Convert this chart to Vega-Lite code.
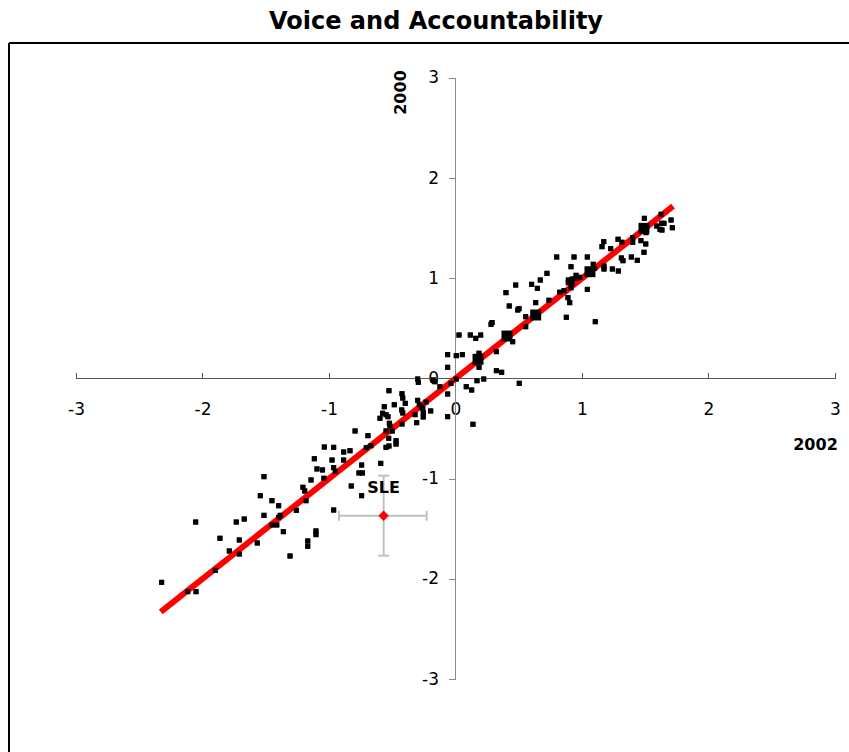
{
  "$schema": "https://vega.github.io/schema/vega-lite/v6.json",
  "width": 840,
  "height": 709,
  "autosize": {"type": "none"},
  "padding": {"left": 9, "top": 43, "right": 0, "bottom": 0},
  "background": "white",
  "config": {"view": {"stroke": null}, "font": "DejaVu Sans"},
  "title": {"text": "Voice and Accountability", "font": "DejaVu Sans", "fontSize": 24, "fontWeight": "bold", "color": "#000", "anchor": "middle", "dx": 7, "offset": 8},
  "datasets": {
    "pts": [
      {"x":-2.323,"y":-2.035},{"x":-2.117,"y":-2.128},{"x":-2.051,"y":-2.128},{"x":-2.054,"y":-1.433},{"x":-1.899,"y":-1.915},{"x":-1.862,"y":-1.595},{"x":-1.788,"y":-1.722},{"x":-1.733,"y":-1.433},{"x":-1.709,"y":-1.612},{"x":-1.709,"y":-1.752},{"x":-1.670,"y":-1.403},{"x":-1.567,"y":-1.642},{"x":-1.543,"y":-1.170},{"x":-1.514,"y":-0.980},{"x":-1.514,"y":-1.366},{"x":-1.451,"y":-1.220},{"x":-1.451,"y":-1.462},{"x":-1.413,"y":-1.462},{"x":-1.398,"y":-1.270},{"x":-1.398,"y":-1.386},{"x":-1.385,"y":-1.366},{"x":-1.361,"y":-1.529},{"x":-1.308,"y":-1.772},{"x":-1.258,"y":-1.316},{"x":-1.206,"y":-1.086},{"x":-1.192,"y":-1.123},{"x":-1.182,"y":-1.220},{"x":-1.168,"y":-1.622},{"x":-1.168,"y":-1.675},{"x":-1.142,"y":-1.013},{"x":-1.103,"y":-1.522},{"x":-1.103,"y":-1.559},{"x":-1.095,"y":-0.903},{"x":-1.051,"y":-0.913},{"x":-1.040,"y":-0.996},
      {"x":-1.116,"y":-0.801},{"x":-0.976,"y":-0.814},{"x":-0.963,"y":-0.890},{"x":-0.950,"y":-0.926},{"x":-0.884,"y":-0.814},{"x":-1.037,"y":-0.684},{"x":-0.963,"y":-0.687},{"x":-0.884,"y":-0.734},{"x":-0.834,"y":-0.721},{"x":-0.794,"y":-0.524},{"x":-0.705,"y":-0.691},{"x":-0.668,"y":-0.671},{"x":-0.692,"y":-0.571},{"x":-0.742,"y":-0.864},{"x":-0.763,"y":-0.943},{"x":-0.735,"y":-0.943},{"x":-0.591,"y":-0.847},{"x":-0.824,"y":-1.073},{"x":-0.742,"y":-1.170},{"x":-0.963,"y":-1.313},
      {"x":-0.549,"y":-0.687},{"x":-0.526,"y":-0.674},{"x":-0.470,"y":-0.621},{"x":-0.470,"y":-0.654},{"x":-0.528,"y":-0.597},{"x":-0.549,"y":-0.524},{"x":-0.500,"y":-0.524},{"x":-0.523,"y":-0.447},{"x":-0.423,"y":-0.454},{"x":-0.307,"y":-0.441},{"x":-0.597,"y":-0.397},{"x":-0.549,"y":-0.361},{"x":-0.534,"y":-0.381},{"x":-0.576,"y":-0.347},{"x":-0.425,"y":-0.314},{"x":-0.255,"y":-0.341},{"x":-0.563,"y":-0.282},{"x":-0.484,"y":-0.262},{"x":-0.397,"y":-0.248},{"x":-0.423,"y":-0.152},{"x":-0.417,"y":-0.195},{"x":-0.526,"y":-0.122},{"x":-0.299,"y":-0.218},{"x":-0.286,"y":-0.262},{"x":-0.259,"y":-0.297},{"x":-0.233,"y":-0.235},{"x":-0.299,"y":-0.005},{"x":-0.294,"y":-0.038},
      {"x":0.281,"y":0.541},{"x":0.028,"y":0.434},{"x":0.117,"y":0.434},{"x":0.160,"y":0.401},{"x":0.199,"y":0.434},{"x":0.186,"y":0.252},{"x":0.054,"y":0.238},{"x":0.006,"y":0.228},{"x":-0.062,"y":0.238},{"x":-0.062,"y":0.112},{"x":0.186,"y":0.112},{"x":0.323,"y":0.268},{"x":0.323,"y":0.078},{"x":0.365,"y":0.062},{"x":0.223,"y":-0.005},{"x":0.170,"y":-0.022},{"x":0.128,"y":-0.115},{"x":0.085,"y":-0.082},{"x":0.006,"y":-0.005},{"x":-0.036,"y":-0.048},{"x":-0.062,"y":-0.155},{"x":-0.123,"y":-0.082},{"x":-0.175,"y":-0.015},{"x":-0.162,"y":-0.032},{"x":-0.518,"y":-0.474},{"x":-0.417,"y":-0.344},{"x":-0.196,"y":-0.324},{"x":-0.320,"y":-0.361},{"x":-0.255,"y":-0.384},{"x":-0.062,"y":-0.381},{"x":0.138,"y":-0.457},{"x":0.504,"y":-0.048},{"x":-0.270,"y":-0.285},
      {"x":0.289,"y":0.559},{"x":0.399,"y":0.857},{"x":0.476,"y":0.933},{"x":0.425,"y":0.724},{"x":0.492,"y":0.684},{"x":0.502,"y":0.697},{"x":0.452,"y":0.367},{"x":0.555,"y":0.617},{"x":0.555,"y":0.517},{"x":0.602,"y":0.940},{"x":0.647,"y":0.900},{"x":0.634,"y":0.757},{"x":0.670,"y":0.983},{"x":0.723,"y":1.050},{"x":0.739,"y":0.781},{"x":0.800,"y":1.213},{"x":0.824,"y":0.861},{"x":0.858,"y":0.877},{"x":0.876,"y":0.611},{"x":0.889,"y":0.807},{"x":0.903,"y":0.757},{"x":0.913,"y":0.906},{"x":0.923,"y":0.946},{"x":0.892,"y":0.983},{"x":0.892,"y":0.956},{"x":0.923,"y":0.993},{"x":0.953,"y":1.030},{"x":0.958,"y":1.000},{"x":0.984,"y":1.010},{"x":0.913,"y":1.116},{"x":0.937,"y":1.213},{"x":1.042,"y":1.213},{"x":1.089,"y":1.140},{"x":1.100,"y":1.100},{"x":1.042,"y":0.890},{"x":1.105,"y":0.567},{"x":1.158,"y":1.316},{"x":1.172,"y":1.366},{"x":1.174,"y":1.123},{"x":1.174,"y":1.093},{"x":1.227,"y":1.296},{"x":1.240,"y":1.093},{"x":1.287,"y":1.073},{"x":1.285,"y":1.390},{"x":1.316,"y":1.360},{"x":1.311,"y":1.203},{"x":1.324,"y":1.176},{"x":1.390,"y":1.213},{"x":1.401,"y":1.360},{"x":1.401,"y":1.406},{"x":1.437,"y":1.180},{"x":1.466,"y":1.376},{"x":1.490,"y":1.260},{"x":1.504,"y":1.343},{"x":1.493,"y":1.599},{"x":1.506,"y":1.456},{"x":1.591,"y":1.522},{"x":1.617,"y":1.489},{"x":1.630,"y":1.549},{"x":1.648,"y":1.549},{"x":1.632,"y":1.482},{"x":1.625,"y":1.639},{"x":1.704,"y":1.582},{"x":1.714,"y":1.505}
    ],
    "big": [
      {"x":0.178,"y":0.192},{"x":0.407,"y":0.424},{"x":0.634,"y":0.634},{"x":1.063,"y":1.066},{"x":1.490,"y":1.499}
    ],
    "sle": [
      {"x":-0.568,"y":-1.370,"xlo":-0.921,"xhi":-0.228,"ylo":-1.769,"yhi":-0.970,"label":"SLE"}
    ],
    "fit": [
      {"x":-2.33,"y":-2.33,"x2":1.72,"y2":1.72}
    ],
    "axislines": [
      {"x":-3,"x2":3,"y":0,"y2":0,"c":"x"},
      {"x":0,"x2":0,"y":-3,"y2":3,"c":"y"}
    ]
  },
  "layer": [
    {
      "data": {"name": "pts"},
      "mark": {"type": "point", "shape": "square", "filled": true, "color": "#000", "size": 25, "opacity": 1, "strokeWidth": 0},
      "encoding": {
        "x": {"field": "x", "type": "quantitative", "scale": {"domain": [-3.5296, 3.1107], "nice": false, "zero": false},
          "axis": {"values": [-3, -2, -1, 0, 1, 2, 3], "offset": -373.5, "domain": false, "grid": false, "ticks": true, "tickSize": -6, "tickColor": "#555555", "tickWidth": 1,
            "labelExpr": "datum.value < 0 ? '-' + abs(datum.value) : '' + datum.value",
            "labelFont": "DejaVu Sans", "labelFontSize": 17, "labelColor": "#000", "labelPadding": 29, "labelFlush": false, "labelOverlap": false,
            "title": "2002", "titleFont": "DejaVu Sans", "titleFontSize": 16, "titleFontWeight": "bold", "titleColor": "#000", "titleX": 806, "titleY": 65.5, "titleAlign": "center", "titleBaseline": "middle"}},
        "y": {"field": "y", "type": "quantitative", "scale": {"domain": [-3.7287, 3.3493], "nice": false, "zero": false},
          "axis": {"values": [-3, -2, -1, 0, 1, 2, 3], "offset": -446.5, "domain": false, "grid": false, "ticks": true, "tickSize": 7, "tickColor": "#888888", "tickWidth": 1,
            "labelExpr": "datum.value < 0 ? '-' + abs(datum.value) : '' + datum.value",
            "labelFont": "DejaVu Sans", "labelFontSize": 17, "labelColor": "#000", "labelPadding": 10, "labelFlush": false, "labelOverlap": false,
            "title": "2000", "titleFont": "DejaVu Sans", "titleFontSize": 16, "titleFontWeight": "bold", "titleColor": "#000", "titleAngle": -90, "titleX": -55.5, "titleY": 49, "titleAlign": "center", "titleBaseline": "middle"}}
      }
    },
    {
      "data": {"values": [{}]},
      "mark": {"type": "rule", "color": "#000", "strokeWidth": 2},
      "encoding": {
        "x": {"datum": -3.5296, "type": "quantitative", "scale": {"domain": [-3.5296, 3.1107], "nice": false, "zero": false}}
      }
    },
    {
      "data": {"values": [{}]},
      "mark": {"type": "rule", "color": "#000", "strokeWidth": 2},
      "encoding": {
        "y": {"datum": 3.3493, "type": "quantitative", "scale": {"domain": [-3.7287, 3.3493], "nice": false, "zero": false}}
      }
    },
    {
      "data": {"name": "axislines"},
      "mark": {"type": "rule", "strokeWidth": 1},
      "encoding": {
        "x": {"field": "x", "type": "quantitative", "scale": {"domain": [-3.5296, 3.1107], "nice": false, "zero": false}},
        "x2": {"field": "x2"},
        "y": {"field": "y", "type": "quantitative", "scale": {"domain": [-3.7287, 3.3493], "nice": false, "zero": false}},
        "y2": {"field": "y2"},
        "color": {"field": "c", "type": "nominal", "scale": {"domain": ["x", "y"], "range": ["#555555", "#888888"]}, "legend": null}
      }
    },
    {
      "data": {"name": "fit"},
      "mark": {"type": "rule", "color": "#ff0000", "strokeWidth": 6, "strokeCap": "butt"},
      "encoding": {
        "x": {"field": "x", "type": "quantitative", "scale": {"domain": [-3.5296, 3.1107], "nice": false, "zero": false}},
        "x2": {"field": "x2"},
        "y": {"field": "y", "type": "quantitative", "scale": {"domain": [-3.7287, 3.3493], "nice": false, "zero": false}},
        "y2": {"field": "y2"}
      }
    },
    {
      "data": {"name": "pts"},
      "mark": {"type": "point", "shape": "square", "filled": true, "color": "#000", "size": 25, "opacity": 1, "strokeWidth": 0},
      "encoding": {
        "x": {"field": "x", "type": "quantitative", "scale": {"domain": [-3.5296, 3.1107], "nice": false, "zero": false}},
        "y": {"field": "y", "type": "quantitative", "scale": {"domain": [-3.7287, 3.3493], "nice": false, "zero": false}}
      }
    },
    {
      "data": {"name": "big"},
      "mark": {"type": "point", "shape": "square", "filled": true, "color": "#000", "size": 120, "opacity": 1, "strokeWidth": 0},
      "encoding": {
        "x": {"field": "x", "type": "quantitative", "scale": {"domain": [-3.5296, 3.1107], "nice": false, "zero": false}},
        "y": {"field": "y", "type": "quantitative", "scale": {"domain": [-3.7287, 3.3493], "nice": false, "zero": false}}
      }
    },
    {
      "data": {"name": "sle"},
      "mark": {"type": "rule", "color": "#c0c0c0", "strokeWidth": 2},
      "encoding": {
        "x": {"field": "xlo", "type": "quantitative", "scale": {"domain": [-3.5296, 3.1107], "nice": false, "zero": false}},
        "x2": {"field": "xhi"},
        "y": {"field": "y", "type": "quantitative", "scale": {"domain": [-3.7287, 3.3493], "nice": false, "zero": false}}
      }
    },
    {
      "data": {"name": "sle"},
      "mark": {"type": "rule", "color": "#c0c0c0", "strokeWidth": 2},
      "encoding": {
        "x": {"field": "x", "type": "quantitative", "scale": {"domain": [-3.5296, 3.1107], "nice": false, "zero": false}},
        "y": {"field": "ylo", "type": "quantitative", "scale": {"domain": [-3.7287, 3.3493], "nice": false, "zero": false}},
        "y2": {"field": "yhi"}
      }
    },
    {
      "data": {"name": "sle"},
      "mark": {"type": "tick", "color": "#c0c0c0", "orient": "vertical", "size": 10, "thickness": 2, "opacity": 1},
      "encoding": {
        "x": {"field": "xlo", "type": "quantitative", "scale": {"domain": [-3.5296, 3.1107], "nice": false, "zero": false}},
        "y": {"field": "y", "type": "quantitative", "scale": {"domain": [-3.7287, 3.3493], "nice": false, "zero": false}}
      }
    },
    {
      "data": {"name": "sle"},
      "mark": {"type": "tick", "color": "#c0c0c0", "orient": "vertical", "size": 10, "thickness": 2, "opacity": 1},
      "encoding": {
        "x": {"field": "xhi", "type": "quantitative", "scale": {"domain": [-3.5296, 3.1107], "nice": false, "zero": false}},
        "y": {"field": "y", "type": "quantitative", "scale": {"domain": [-3.7287, 3.3493], "nice": false, "zero": false}}
      }
    },
    {
      "data": {"name": "sle"},
      "mark": {"type": "tick", "color": "#c0c0c0", "orient": "horizontal", "size": 11, "thickness": 2, "opacity": 1},
      "encoding": {
        "x": {"field": "x", "type": "quantitative", "scale": {"domain": [-3.5296, 3.1107], "nice": false, "zero": false}},
        "y": {"field": "ylo", "type": "quantitative", "scale": {"domain": [-3.7287, 3.3493], "nice": false, "zero": false}}
      }
    },
    {
      "data": {"name": "sle"},
      "mark": {"type": "tick", "color": "#c0c0c0", "orient": "horizontal", "size": 11, "thickness": 2, "opacity": 1},
      "encoding": {
        "x": {"field": "x", "type": "quantitative", "scale": {"domain": [-3.5296, 3.1107], "nice": false, "zero": false}},
        "y": {"field": "yhi", "type": "quantitative", "scale": {"domain": [-3.7287, 3.3493], "nice": false, "zero": false}}
      }
    },
    {
      "data": {"name": "sle"},
      "mark": {"type": "point", "shape": "diamond", "filled": true, "color": "#ff0000", "size": 110, "opacity": 1, "strokeWidth": 0},
      "encoding": {
        "x": {"field": "x", "type": "quantitative", "scale": {"domain": [-3.5296, 3.1107], "nice": false, "zero": false}},
        "y": {"field": "y", "type": "quantitative", "scale": {"domain": [-3.7287, 3.3493], "nice": false, "zero": false}}
      }
    },
    {
      "data": {"name": "sle"},
      "mark": {"type": "text", "font": "DejaVu Sans", "fontSize": 16, "fontWeight": "bold", "color": "#000", "dy": -28, "align": "center", "baseline": "middle"},
      "encoding": {
        "x": {"field": "x", "type": "quantitative", "scale": {"domain": [-3.5296, 3.1107], "nice": false, "zero": false}},
        "y": {"field": "y", "type": "quantitative", "scale": {"domain": [-3.7287, 3.3493], "nice": false, "zero": false}},
        "text": {"field": "label"}
      }
    }
  ]
}
